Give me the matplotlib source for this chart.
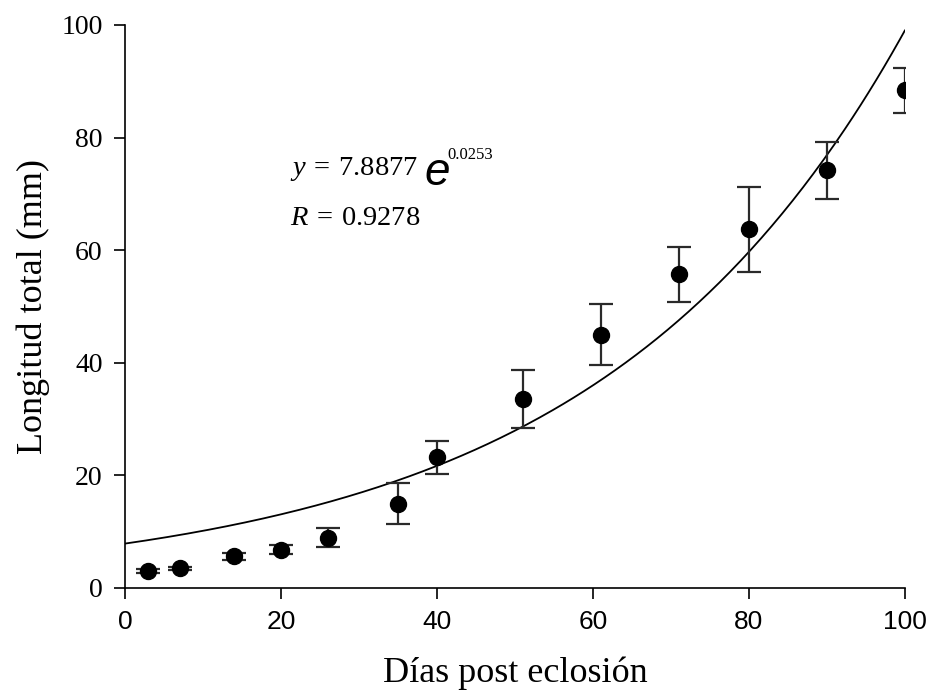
import numpy as np
import matplotlib
matplotlib.use('Agg')
import matplotlib.pyplot as plt

# days post hatching, mean total length (mm) and error
dias = [3, 7, 14, 20, 26, 35, 40, 51, 61, 71, 80, 90, 100]
longitud = [3.0, 3.5, 5.6, 6.8, 8.9, 15.0, 23.2, 33.6, 45.0, 55.7, 63.7, 74.2, 88.4]
error = [0.3, 0.3, 0.7, 0.8, 1.7, 3.7, 2.9, 5.2, 5.4, 4.9, 7.6, 5.1, 4.0]

# fitted exponential y = a * exp(b x)
a_fit = 7.8877
b_fit = 0.0253
r_fit = 0.9278

x_ticks = [0, 20, 40, 60, 80, 100]
y_ticks = [0, 20, 40, 60, 80, 100]

plt.rcParams['mathtext.fontset'] = 'custom'
plt.rcParams['mathtext.rm'] = 'Liberation Serif'
plt.rcParams['mathtext.it'] = 'Liberation Serif:italic'

serif = 'Liberation Serif'
sans = 'Liberation Sans'

fig = plt.figure(figsize=(9.29, 6.98), dpi=100)
ax = fig.add_axes([0.1346, 0.1576, 0.8394, 0.8066])

xs = np.linspace(0, 100, 300)
ax.plot(xs, a_fit * np.exp(b_fit * xs), color='black', lw=1.3, zorder=2)

ax.errorbar(dias, longitud, yerr=error, fmt='o', color='black', ms=11.5,
            ecolor='#2a2a2a', elinewidth=1.6, capsize=8.5, capthick=1.6, zorder=3)

ax.set_xlim(0, 100)
ax.set_ylim(0, 100)
ax.set_xticks(x_ticks)
ax.set_yticks(y_ticks)
ax.set_xticklabels([str(t) for t in x_ticks], fontfamily=sans, fontsize=19)
ax.set_yticklabels([str(t) for t in y_ticks], fontfamily=serif, fontsize=20)
ax.tick_params(direction='out', length=8, width=1.2, pad=8)
ax.spines['top'].set_visible(False)
ax.spines['right'].set_visible(False)
ax.spines['left'].set_linewidth(1.2)
ax.spines['bottom'].set_linewidth(1.2)

ax.set_xlabel('Días post eclosión', fontfamily=serif, fontsize=26, labelpad=16)
ax.set_ylabel('Longitud total (mm)', fontfamily=serif, fontsize=26, labelpad=8)

# equation annotation
ax.text(21.2, 73.4, r'$y\:=\:%.4f$' % a_fit, fontsize=20.5, ha='left', va='baseline')
ax.text(38.4, 71.6, 'e', fontfamily=sans, style='italic', fontsize=33,
        ha='left', va='baseline')
ax.text(41.3, 76.2, '%.4f' % b_fit, fontfamily=serif, fontsize=12,
        ha='left', va='baseline')
ax.text(21.2, 64.5, r'$R\:=\:%.4f$' % r_fit, fontsize=20.5, ha='left', va='baseline')

fig.savefig('out.png', dpi=100)
